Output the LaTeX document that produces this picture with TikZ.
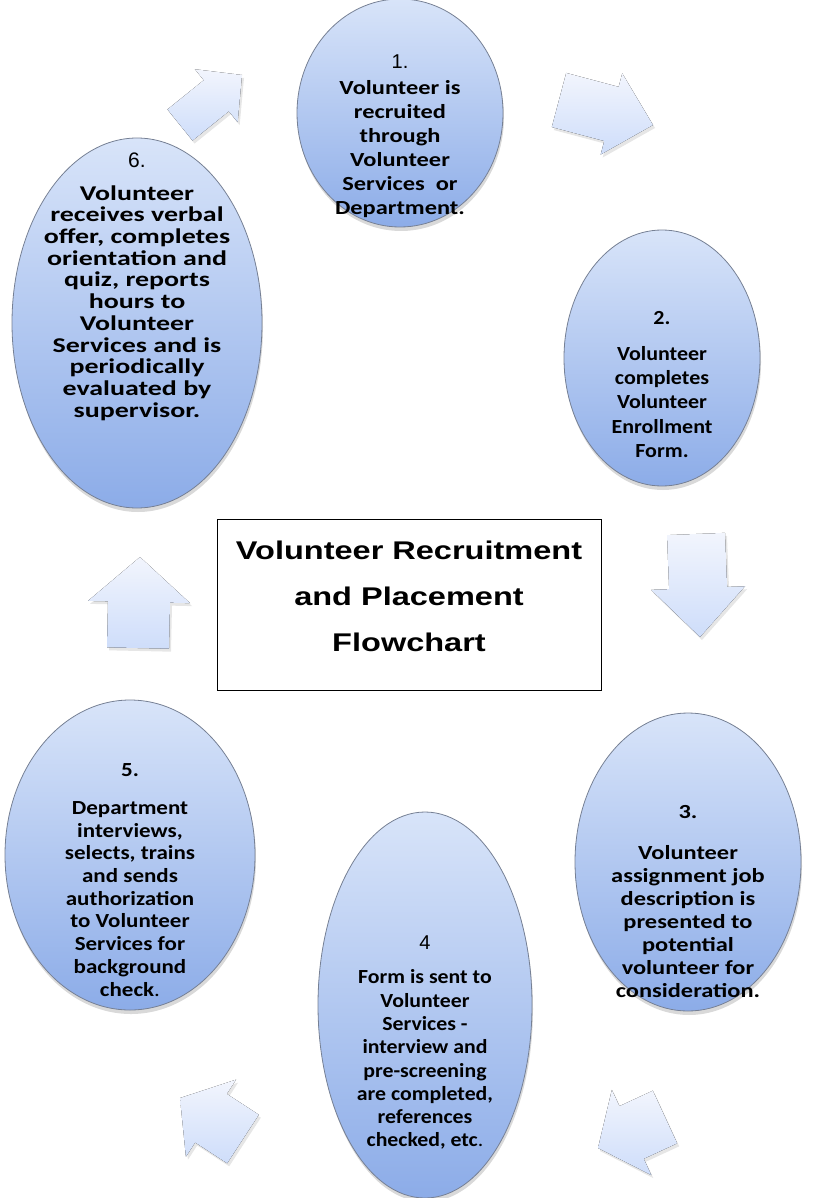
\documentclass[tikz,border=0pt]{standalone}
\usepackage{fontspec}
\setmainfont{Carlito}
\newfontfamily\numfont{Liberation Sans}
\newfontfamily\headfont{Liberation Sans}[FakeStretch=1.27]
\usetikzlibrary{shapes.geometric,shadows,positioning,calc}
\definecolor{ovaltop}{RGB}{216,228,249}
\definecolor{ovalmid}{RGB}{178,201,242}
\definecolor{ovalbot}{RGB}{140,172,232}
\definecolor{ovaledge}{RGB}{118,128,148}
\definecolor{arrtop}{RGB}{242,245,253}
\definecolor{arrbot}{RGB}{206,221,250}
\def\blockarrow#1#2#3#4#5{%
  \coordinate (#2-base) at ($(#2)!#5!(#1)$);
  \fill[blockarr] ($(#1)!#3!90:(#2)$) -- ($(#2-base)!#3!90:(#2)$) -- ($(#2-base)!#4!90:(#2)$) -- (#2)
    -- ($(#2-base)!#4!-90:(#2)$) -- ($(#2-base)!#3!-90:(#2)$) -- ($(#1)!#3!-90:(#2)$) -- cycle}
\tikzstyle{oval}=[ellipse,draw=ovaledge,line width=0.8pt,inner sep=0pt,top color=ovaltop,middle color=ovalmid,bottom color=ovalbot,drop shadow={opacity=0.3,shadow xshift=1pt,shadow yshift=-4pt}]
\tikzstyle{blockarr}=[top color=arrtop,bottom color=arrbot,drop shadow={opacity=0.2,shadow xshift=2pt,shadow yshift=-3pt}]
\tikzstyle{titlebox}=[draw=black,line width=0.8pt,fill=white,minimum width=384pt,minimum height=171pt]
\tikzstyle{titletext}=[align=center,inner sep=0pt,font=\headfont\bfseries\fontsize{25.6}{46}\selectfont]
\tikzset{ovaltext/.style n args={3}{align=center,inner sep=0pt,font=\fontsize{#1}{#2}\selectfont\bfseries\addfontfeature{FakeStretch=#3}}}

\begin{document}
\begin{tikzpicture}[x=1pt,y=-1pt]
    \useasboundingbox (0,0) rectangle (819,1198);
    \coordinate (from61) at (180,125);  \coordinate (to61) at (242,75);
    \coordinate (from12) at (559,100);  \coordinate (to12) at (653,125);
    \coordinate (from23) at (696,534);  \coordinate (to23) at (700,637);
    \coordinate (from34) at (665,1117); \coordinate (to34) at (598,1148);
    \coordinate (from45) at (243,1139); \coordinate (to45) at (180,1098);
    \coordinate (from56) at (138,648);  \coordinate (to56) at (140,557);
    \blockarrow{from61}{to61}{20pt}{34pt}{33pt};
    \blockarrow{from12}{to12}{28pt}{42pt}{43pt};
    \blockarrow{from23}{to23}{29pt}{47pt}{49pt};
    \blockarrow{from34}{to34}{29pt}{47pt}{37pt};
    \blockarrow{from45}{to45}{29pt}{46pt}{37pt};
    \blockarrow{from56}{to56}{31pt}{51pt}{45pt};

    \node[oval,minimum width=206pt,minimum height=228pt] (o1) at (400,113) {};
    \node[oval,minimum width=196pt,minimum height=256pt] (o2) at (662,358) {};
    \node[oval,minimum width=226pt,minimum height=298pt] (o3) at (688,862) {};
    \node[oval,minimum width=214pt,minimum height=386pt] (o4) at (425,1005) {};
    \node[oval,minimum width=250pt,minimum height=310pt] (o5) at (130,855) {};
    \node[oval,minimum width=250pt,minimum height=370pt] (o6) at (137,323) {};

    \node[ovaltext={20}{24}{1.22},below=56pt of o1.north] (t1) {{\numfont\mdseries 1.}\\[2pt]
      Volunteer is\\recruited\\through\\Volunteer\\Services\ \ or\\Department.};
    \node[ovaltext={20}{24.3}{1.1},below=82pt of o2.north] (t2) {2.\\[11pt]
      Volunteer\\completes\\Volunteer\\Enrollment\\Form.};
    \node[ovaltext={20}{23}{1.22},below=93pt of o3.north] (t3) {3.\\[18pt]
      Volunteer\\assignment job\\description is\\presented to\\potential\\volunteer for\\consideration.};
    \node[ovaltext={20}{23.3}{1.09},below=124pt of o4.north] (t4) {{\numfont\mdseries 4}\\[11pt]
      Form is sent to\\Volunteer\\Services -\\interview and\\pre-screening\\are completed,\\references\\checked, etc{\mdseries .}};
    \node[ovaltext={20}{22.7}{1.15},below=64pt of o5.north] (t5) {5.\\[15pt]
      Department\\interviews,\\selects, trains\\and sends\\authorization\\to Volunteer\\Services for\\background\\check{\mdseries .}};
    \node[ovaltext={21}{21.7}{1.33},below=15pt of o6.north] (t6) {{\numfont\mdseries 6.}\\[11pt]
      Volunteer\\receives verbal\\offer, completes\\orientation and\\quiz, reports\\hours to\\Volunteer\\Services and is\\periodically\\evaluated by\\supervisor.};

    \node[titlebox] (title) at (409,604.5) {};
    \node[titletext,below=22pt of title.north] (heading) {Volunteer Recruitment\\and Placement\\Flowchart};
\end{tikzpicture}
\end{document}
